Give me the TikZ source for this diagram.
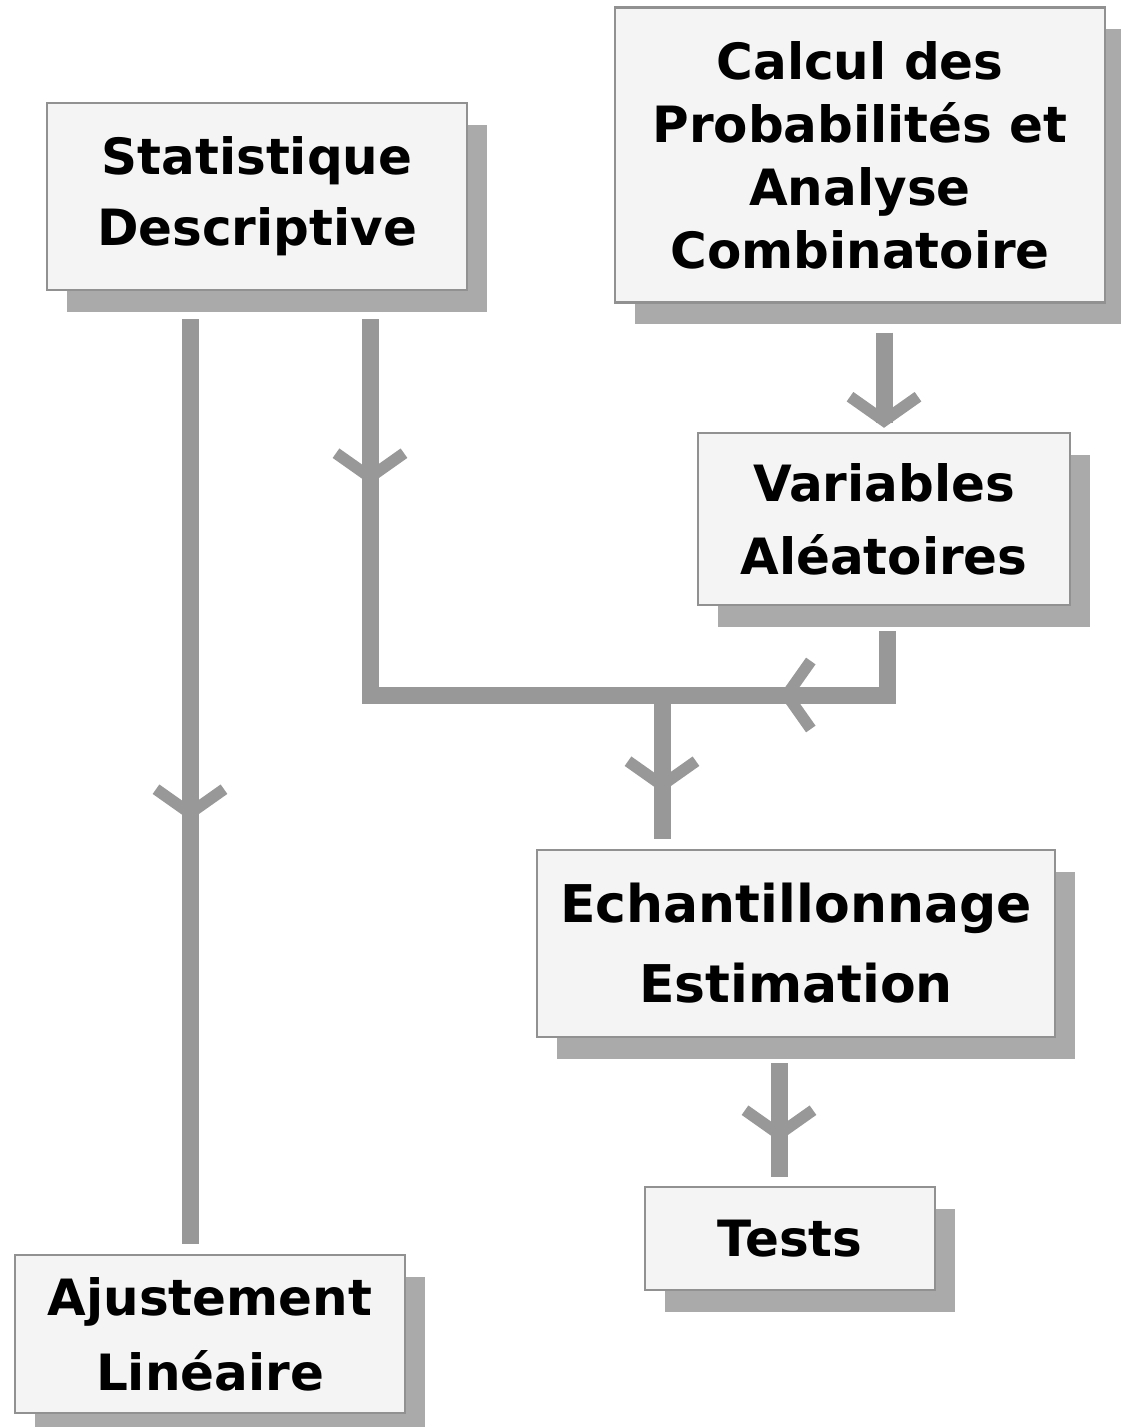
\documentclass[tikz,border=0pt]{standalone}
\usepackage{fontspec}
\setmainfont{DejaVu Sans}
\usetikzlibrary{shadows,calc,decorations.markings}
\definecolor{linecol}{RGB}{152,152,152}
\definecolor{shadowcol}{RGB}{170,170,170}
\definecolor{boxfill}{RGB}{244,244,244}
\definecolor{boxline}{RGB}{145,145,145}
\tikzset{
  box/.style={draw=boxline, line width=1.2pt, fill=boxfill, inner sep=0pt,
    align=center, text=black, font=\bfseries\fontsize{25}{#1}\selectfont,
    drop shadow={shadow xshift=10pt, shadow yshift=-11pt, fill=shadowcol, opacity=1}},
  conn/.style={draw=linecol, line width=8.5pt, line join=miter, line cap=butt},
  chevron/.style={draw=linecol, line width=5.8pt, line join=miter, line cap=butt},
  chevat/.style={postaction={decorate, decoration={markings,
    mark=at position #1 with {\draw[chevron] (-24,34) -- (0,0) -- (-24,-34);}}}},
}
\begin{document}
\begin{tikzpicture}[x=0.5pt,y=-0.5pt]
\useasboundingbox (0,0) rectangle (1120,1427);
% boxes
\node[box=35.5, minimum width=210pt, minimum height=93.5pt] (stat) at (257,196.5)
  {Statistique\\Descriptive};
\node[box=31.5, minimum width=245pt, minimum height=147.5pt] (calc) at (860,155)
  {Calcul des\\Probabilités et\\Analyse\\Combinatoire};
\node[box=36.5, minimum width=186pt, minimum height=86pt] (var) at (884,519)
  {Variables\\Aléatoires};
\node[box=40, minimum width=259pt, minimum height=93.5pt, font=\bfseries\fontsize{26}{40}\selectfont] (ech) at (796,943.5)
  {Echantillonnage\\Estimation};
\node[box=30, minimum width=145pt, minimum height=51.5pt] (tests) at (790,1238.5)
  {Tests};
\node[box=37.5, minimum width=195pt, minimum height=79pt] (ajust) at (210,1334)
  {Ajustement\\Linéaire};
% junction
\coordinate (jm) at (662,695);
% connectors
\draw[conn, chevat=247pt] ($(stat.south)+(-67,28)$) -- ($(ajust.north)+(-20,-10)$);
\draw[conn, chevat=79pt, chevat=379pt] ($(stat.south)+(113,28)$) |- (jm) -- ($(ech.north)+(-134,-10)$);
\draw[conn, chevat=82pt] ($(var.south)+(3,25)$) |- (jm);
\draw[conn, chevat=44pt] ($(calc.south)+(24,29)$) -- ($(var.north)+(0,-9)$);
\draw[conn, chevat=35.5pt] ($(ech.south)+(-17,25)$) -- ($(tests.north)+(-11,-9)$);
\end{tikzpicture}
\end{document}
